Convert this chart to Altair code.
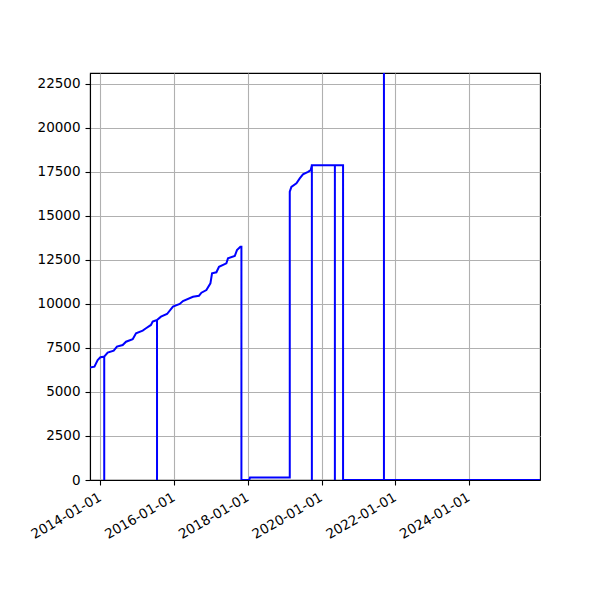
import altair as alt
import pandas as pd

dates = [
    "2013-09-20", "2013-11-03", "2013-12-05", "2014-01-01",
    "2014-02-08", "2014-02-08", "2014-02-08",
    "2014-03-14", "2014-05-13", "2014-06-14", "2014-08-10", "2014-09-12",
    "2014-11-17", "2014-12-20", "2015-02-24", "2015-03-29", "2015-05-17",
    "2015-06-03",
    "2015-07-16", "2015-07-16", "2015-07-16",
    "2015-08-24", "2015-10-23", "2015-12-21", "2016-02-26", "2016-03-29",
    "2016-07-06", "2016-09-04", "2016-09-28", "2016-11-16", "2016-12-26",
    "2017-01-11", "2017-02-23", "2017-03-21", "2017-06-02", "2017-06-18",
    "2017-08-24", "2017-09-15", "2017-10-19",
    "2017-10-29", "2017-10-29", "2018-01-15", "2018-01-22", "2019-02-20",
    "2019-02-20", "2019-03-08", "2019-04-27", "2019-05-30", "2019-07-01",
    "2019-08-20", "2019-09-16",
    "2019-09-27", "2019-09-27", "2019-09-27",
    "2020-05-12", "2020-05-12", "2020-05-12",
    "2020-08-01", "2020-08-01",
    "2021-09-10", "2021-09-10", "2021-09-10",
    "2025-12-04",
]
values = [
    6380, 6430, 6810, 6970,
    7000, 0, 7000,
    7230, 7340, 7570, 7660, 7850,
    7990, 8330, 8480, 8610, 8800,
    8990,
    9080, 0, 9080,
    9270, 9420, 9840, 9990, 10160,
    10400, 10460, 10630, 10780, 11160,
    11730, 11790, 12100, 12300, 12580,
    12710, 13050, 13240,
    13240, 0, 0, 140, 140,
    16360, 16640, 16840, 17120, 17350,
    17490, 17590,
    17870, 0, 17870,
    17870, 0, 17870,
    17870, 0,
    0, 30000, 0,
    0,
]
tick_years = [2014, 2016, 2018, 2020, 2022, 2024]
y_ticks = [0, 2500, 5000, 7500, 10000, 12500, 15000, 17500, 20000, 22500]

df = pd.DataFrame({"date": dates, "value": values, "i": list(range(len(dates)))})

x_domain = [alt.DateTime(year=2013, month=9, date=20, utc=True),
            alt.DateTime(year=2025, month=12, date=4, utc=True)]
x_vals = [alt.DateTime(year=y, month=1, date=1, utc=True) for y in tick_years]

chart = alt.Chart(df).mark_line(color="#0000ff", strokeWidth=2, clip=True).encode(
    x=alt.X("date:T",
            scale=alt.Scale(type="utc", domain=x_domain, nice=False),
            axis=alt.Axis(values=x_vals, title=None,
                          labelExpr="utcFormat(datum.value, '%Y-%m-%d')",
                          labelAngle=-30, labelAlign="right", labelBaseline="top",
                          labelOffset=-4)),
    y=alt.Y("value:Q",
            scale=alt.Scale(domain=[0, 23100], nice=False, zero=False),
            axis=alt.Axis(values=y_ticks, title=None, format="d")),
    order=alt.Order("i:Q"),
).properties(
    width=450, height=407,
    autosize=alt.AutoSizeParams(type="none"),
    padding={"left": 82, "top": 65, "right": 40, "bottom": 100},
).configure_view(
    stroke="black", strokeWidth=1.1
).configure_axis(
    grid=True, gridColor="#b0b0b0", gridWidth=1.1, gridOpacity=1,
    domainColor="black", domainWidth=1.1,
    tickColor="black", tickSize=5, tickWidth=1.1,
    labelFont="DejaVu Sans", labelFontSize=13.5, labelColor="black",
    labelPadding=5, labelOverlap=False, labelFlush=False,
)

chart.save("out.html", embed_options={"renderer": "svg", "actions": False})
